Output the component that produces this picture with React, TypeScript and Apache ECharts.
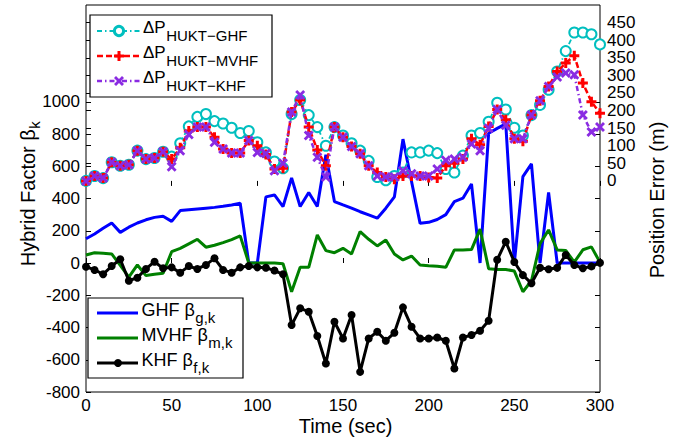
import React, { useEffect, useRef } from "react";
import * as echarts from "echarts";

// Sample times (sec)
const time = [
  0, 5, 10, 15, 20, 25, 30, 35, 40, 45, 50, 55, 60, 65, 70, 75, 80, 85, 90, 95,
  100, 105, 110, 115, 120, 125, 130, 135, 140, 145, 150, 155, 160, 165, 170, 175,
  180, 185, 190, 195, 200, 205, 210, 215, 220, 225, 230, 235, 240, 245, 250, 255,
  260, 265, 270, 275, 280, 285, 290, 295, 300,
];

// Hybrid factors (left axis)
const ghfBeta = [
  150, 180, 215, 248, 190, 222, 248, 268, 283, 290, 258, 325, 330, 335, 340, 345,
  352, 360, 370, 0, 0, 410, 422, 350, 528, 350, 437, 350, 671, 381, 360, 340, 318,
  298, 278, 340, 410, 768, 505, 246, 252, 270, 300, 381, 402, 490, 0, 805, 835, 863,
  0, 536, 615, 0, 437, 0, 0, 0, 0, 0, 0,
];
const mvhfBeta = [
  50, 64, 60, 56, -15, -88, -12, -78, -70, -64, 70, 91, 119, 147, 98, 110, 126, 145,
  168, 0, 0, 0, 0, -5, -178, -27, -27, 174, 77, 64, 91, 56, 195, 147, 106, 143, 56,
  19, 43, -12, -17, -20, -27, 81, 81, 83, 210, -35, -40, -40, -50, -178, -110, 120,
  205, 81, 78, 5, 82, 100, 4,
];
const khfBeta = [
  -23, -43, -70, -19, 23, -110, -91, -37, 8, -33, -27, -60, -19, -37, -12, 29, -43,
  -60, -27, -19, -27, -29, -47, -70, -385, -281, -302, -453, -623, -364, -468, -323,
  -675, -468, -426, -482, -433, -275, -395, -468, -468, -462, -482, -654, -462, -447,
  -420, -358, 20, 132, 6, -75, -126, -30, -39, -30, 50, -12, -33, -21, 1,
];

// Position errors (right axis, m)
const errGhf = [
  0, 14, 8, 53, 43, 46, 86, 62, 65, 83, 69, 107, 155, 182, 190, 170, 163, 151, 136,
  142, 110, 81, 55, 36, 190, 230, 187, 153, 100, 153, 129, 107, 86, 57, 11, 2, 14,
  24, 81, 81, 86, 79, 34, 24, 72, 129, 136, 168, 222, 203, 151, 129, 187, 216, 259,
  311, 369, 422, 422, 417, 388,
];
const errMvhf = [
  0, 14, 8, 53, 43, 46, 86, 62, 65, 83, 62, 94, 142, 153, 153, 124, 91, 79, 79, 115,
  100, 75, 34, 36, 196, 230, 153, 88, 43, 153, 124, 98, 77, 43, 24, 11, 5, 14, 14,
  14, 10, 8, 43, 50, 62, 120, 103, 155, 203, 174, 120, 113, 187, 228, 268, 311, 335,
  356, 278, 225, 192,
];
const errKhf = [
  0, 14, 8, 53, 43, 46, 86, 62, 65, 83, 40, 86, 132, 153, 153, 110, 91, 79, 79, 115,
  81, 78, 29, 50, 196, 244, 129, 67, 11, 153, 124, 98, 77, 43, 14, 11, 11, 29, 20,
  14, 14, 34, 59, 62, 67, 105, 86, 150, 203, 158, 120, 120, 187, 228, 268, 295, 307,
  302, 187, 139, 153,
];

const leftTicks = [-800, -600, -400, -200, 0, 200, 400, 600, 800, 1000];
const rightTicks = [0, 50, 100, 150, 200, 250, 300, 350, 400, 450];

const FONT = '"Liberation Sans", Arial, Helvetica, sans-serif';
const CYAN = "#00BFBF";
const RED = "#FF0000";
const PURPLE = "#8A2BE2";
const BLUE = "#0000FF";
const GREEN = "#008000";
const BLACK = "#000000";

const PLUS_PATH = "path://M3.5,0H6.5V3.5H10V6.5H6.5V10H3.5V6.5H0V3.5H3.5Z";
const CROSS_PATH =
  "path://M2,0L5,3L8,0L10,2L7,5L10,8L8,10L5,7L2,10L0,8L3,5L0,2Z";

const pairs = (vals: number[]) => time.map((t, i) => [t, vals[i]]);
const plain = (v: number) => String(v);

let measureCtx: CanvasRenderingContext2D | null = null;
function textWidth(s: string, size: number): number {
  if (!measureCtx) measureCtx = document.createElement("canvas").getContext("2d");
  if (!measureCtx) return s.length * size * 0.55;
  measureCtx.font = `${size}px ${FONT}`;
  return measureCtx.measureText(s).width;
}

function plusPoints(cx: number, cy: number, r: number, w: number) {
  return [
    [cx - w, cy - r], [cx + w, cy - r], [cx + w, cy - w], [cx + r, cy - w],
    [cx + r, cy + w], [cx + w, cy + w], [cx + w, cy + r], [cx - w, cy + r],
    [cx - w, cy + w], [cx - r, cy + w], [cx - r, cy - w], [cx - w, cy - w],
  ];
}
function crossPoints(cx: number, cy: number, r: number, t: number) {
  return [
    [cx - r + t, cy - r], [cx, cy - t], [cx + r - t, cy - r], [cx + r, cy - r + t],
    [cx + t, cy], [cx + r, cy + r - t], [cx + r - t, cy + r], [cx, cy + t],
    [cx - r + t, cy + r], [cx - r, cy + r - t], [cx - t, cy], [cx - r, cy - r + t],
  ];
}

function text(x: number, y: number, s: string, size: number, align = "left", extra: any = {}) {
  return {
    type: "text",
    x,
    y,
    z: 100,
    style: { text: s, fontSize: size, fontFamily: FONT, fill: "#000", align, verticalAlign: "middle" },
    ...extra,
  };
}

function buildGraphics() {
  const g: any[] = [];

  // upper legend (position errors)
  g.push({
    type: "rect", z: 99,
    shape: { x: 90, y: 15, width: 182, height: 82 },
    style: { fill: "#fff", stroke: "#000", lineWidth: 1.2 },
  });
  const upRows = [
    { y: 31, color: CYAN, sub: "HUKT\u2212GHF", dash: [5, 3, 1.5, 3], width: 1.8, mk: "o" },
    { y: 56, color: RED, sub: "HUKT\u2212MVHF", dash: [6, 3], width: 2.5, mk: "+" },
    { y: 81, color: PURPLE, sub: "HUKT\u2212KHF", dash: [5, 3, 1.5, 3], width: 2.5, mk: "x" },
  ];
  upRows.forEach((r) => {
    g.push({
      type: "line", z: 100,
      shape: { x1: 97, y1: r.y, x2: 140, y2: r.y },
      style: { stroke: r.color, lineWidth: r.width, lineDash: r.dash },
    });
    if (r.mk === "o") {
      g.push({
        type: "circle", z: 101, shape: { cx: 119, cy: r.y, r: 4.6 },
        style: { fill: "#fff", stroke: r.color, lineWidth: 3 },
      });
    } else if (r.mk === "+") {
      g.push({
        type: "polygon", z: 101, shape: { points: plusPoints(119, r.y, 5, 1.5) },
        style: { fill: r.color },
      });
    } else {
      g.push({
        type: "polygon", z: 101, shape: { points: crossPoints(119, r.y, 5, 2) },
        style: { fill: r.color },
      });
    }
    const main = "\u0394P";
    g.push(text(143, r.y - 3.5, main, 17));
    g.push(text(143 + textWidth(main, 17) + 0.5, r.y + 4.5, r.sub, 15));
  });

  // lower legend (hybrid factors)
  g.push({
    type: "rect", z: 99,
    shape: { x: 88, y: 298, width: 155, height: 80 },
    style: { fill: "#fff", stroke: "#000", lineWidth: 1.2 },
  });
  const lowRows = [
    { y: 313, color: BLUE, main: "GHF \u03b2", sub: "g,k", dot: false },
    { y: 338, color: GREEN, main: "MVHF \u03b2", sub: "m,k", dot: false },
    { y: 363, color: BLACK, main: "KHF \u03b2", sub: "f,k", dot: true },
  ];
  lowRows.forEach((r) => {
    g.push({
      type: "line", z: 100,
      shape: { x1: 97, y1: r.y, x2: 138, y2: r.y },
      style: { stroke: r.color, lineWidth: 3 },
    });
    if (r.dot) {
      g.push({
        type: "circle", z: 101, shape: { cx: 118, cy: r.y, r: 4 },
        style: { fill: r.color },
      });
    }
    g.push(text(141.5, r.y - 3, r.main, 18));
    g.push(text(141.5 + textWidth(r.main, 18) + 0.5, r.y + 4.5, r.sub, 15));
  });

  // x axis title
  g.push(text(345.5, 426, "Time (sec)", 20, "center"));

  // left axis title with subscript, rotated to read bottom-up
  const leftMain = "Hybrid Factor \u03b2";
  const lw = textWidth(leftMain, 20);
  const kw = textWidth("k", 15);
  const total = lw + kw;
  g.push({
    type: "group",
    x: 28,
    y: 194,
    rotation: Math.PI / 2,
    z: 100,
    children: [
      text(-total / 2, 0, leftMain, 20),
      text(-total / 2 + lw + 0.5, 6.5, "k", 15),
    ],
  });

  // right axis title
  g.push({
    type: "group",
    x: 657,
    y: 200,
    rotation: Math.PI / 2,
    z: 100,
    children: [text(0, 0, "Position Error (m)", 20, "center")],
  });

  return g;
}

export default function App() {
  const ref = useRef<HTMLDivElement>(null);

  useEffect(() => {
    if (!ref.current) return;
    const chart = echarts.init(ref.current, undefined, { renderer: "svg" });

    const tickStyle = { lineStyle: { color: "#000", width: 1 } };

    const option: any = {
      animation: false,
      backgroundColor: "#fff",
      textStyle: { fontFamily: FONT },
      grid: {
        left: 86, top: 5, right: 86, bottom: 46,
        show: true, borderColor: "#000", borderWidth: 1, backgroundColor: "transparent",
      },
      xAxis: [
        {
          type: "value", min: 0, max: 300, interval: 50, position: "bottom",
          axisLine: { show: false },
          axisTick: { inside: true, length: 5, ...tickStyle },
          axisLabel: { fontSize: 17, color: "#000", margin: 5, fontFamily: FONT, formatter: plain },
          splitLine: { show: false },
        },
        {
          type: "value", min: 0, max: 300, interval: 50, position: "top",
          axisLine: { show: false },
          axisTick: { inside: true, length: 5, ...tickStyle },
          axisLabel: { show: false },
          splitLine: { show: false },
        },
      ],
      yAxis: [
        {
          type: "value", min: -800, max: 1600, interval: 200, position: "left",
          axisLine: { show: false },
          axisTick: { inside: true, length: 5, customValues: leftTicks, ...tickStyle },
          axisLabel: {
            fontSize: 17, color: "#000", margin: 6, customValues: leftTicks,
            fontFamily: FONT, formatter: plain,
          },
          splitLine: { show: false },
        },
        {
          type: "value", min: -600, max: 500, interval: 50, position: "right",
          axisLine: { show: false },
          axisTick: { inside: false, length: 5, customValues: rightTicks, ...tickStyle },
          axisLabel: {
            fontSize: 17, color: "#000", margin: 7, customValues: rightTicks,
            fontFamily: FONT, formatter: plain,
          },
          splitLine: { show: false },
        },
        {
          type: "value", min: -800, max: 1600, interval: 200, position: "right",
          axisLine: { show: false },
          axisTick: { inside: true, length: 5, customValues: leftTicks, ...tickStyle },
          axisLabel: { show: false },
          splitLine: { show: false },
        },
      ],
      series: [
        {
          name: "GHF", type: "line", yAxisIndex: 0, data: pairs(ghfBeta),
          symbol: "none", lineStyle: { color: BLUE, width: 3 }, z: 2,
        },
        {
          name: "MVHF", type: "line", yAxisIndex: 0, data: pairs(mvhfBeta),
          symbol: "none", lineStyle: { color: GREEN, width: 3 }, z: 3,
        },
        {
          name: "KHF", type: "line", yAxisIndex: 0, data: pairs(khfBeta),
          symbol: "circle", symbolSize: 8, showSymbol: true,
          itemStyle: { color: BLACK }, lineStyle: { color: BLACK, width: 3 }, z: 4,
        },
        {
          name: "dP GHF", type: "line", yAxisIndex: 1, data: pairs(errGhf),
          symbol: "emptyCircle", symbolSize: 10, showSymbol: true,
          itemStyle: { color: CYAN, borderColor: CYAN, borderWidth: 3 },
          lineStyle: { color: CYAN, width: 1.8, type: [5, 3, 1.5, 3] }, z: 5,
        },
        {
          name: "dP MVHF", type: "line", yAxisIndex: 1, data: pairs(errMvhf),
          symbol: PLUS_PATH, symbolSize: 10, showSymbol: true,
          itemStyle: { color: RED },
          lineStyle: { color: RED, width: 2.5, type: [6, 3] }, z: 6,
        },
        {
          name: "dP KHF", type: "line", yAxisIndex: 1, data: pairs(errKhf),
          symbol: CROSS_PATH, symbolSize: 10, showSymbol: true,
          itemStyle: { color: PURPLE },
          lineStyle: { color: PURPLE, width: 2.5, type: [5, 3, 1.5, 3] }, z: 7,
        },
      ],
      graphic: buildGraphics(),
    };

    chart.setOption(option);
    return () => chart.dispose();
  }, []);

  return (
    <div
      ref={ref}
      style={{ position: "fixed", left: 0, top: 0, width: 686, height: 438, background: "#fff" }}
    />
  );
}
